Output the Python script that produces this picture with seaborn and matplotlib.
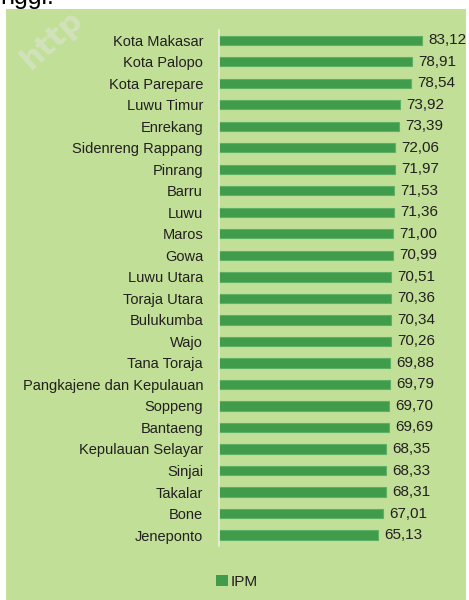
import matplotlib
matplotlib.use("Agg")
import matplotlib.pyplot as plt
from matplotlib.patches import Rectangle, Patch
import seaborn as sns
import pandas as pd

# IPM per kabupaten/kota
regions = ["Kota Makasar", "Kota Palopo", "Kota Parepare", "Luwu Timur", "Enrekang",
           "Sidenreng Rappang", "Pinrang", "Barru", "Luwu", "Maros", "Gowa",
           "Luwu Utara", "Toraja Utara", "Bulukumba", "Wajo", "Tana Toraja",
           "Pangkajene dan Kepulauan", "Soppeng", "Bantaeng", "Kepulauan Selayar",
           "Sinjai", "Takalar", "Bone", "Jeneponto"]
ipm = [83.12, 78.91, 78.54, 73.92, 73.39, 72.06, 71.97, 71.53, 71.36, 71.00, 70.99,
       70.51, 70.36, 70.34, 70.26, 69.88, 69.79, 69.70, 69.69, 68.35, 68.33, 68.31,
       67.01, 65.13]
series_name = "IPM"

df = pd.DataFrame({"region": regions, "ipm": ipm})

sns.set_style("white")
plt.rcParams["font.family"] = ["Liberation Sans Narrow", "Liberation Sans", "DejaVu Sans"]

bg = "#C1DF97"
bar_green = "#409C4B"
text_col = "#231F20"

W, H = 469, 600
fig = plt.figure(figsize=(W / 100, H / 100), dpi=100)
fig.patch.set_facecolor("white")

# light green panel behind the chart
fig.patches.append(Rectangle((6 / W, 0), (466 - 6) / W, (H - 9) / H,
                             transform=fig.transFigure, facecolor=bg,
                             edgecolor="none", zorder=-5))

# cropped caption text (cut at the top in the source) and faint watermark
fig.text(0.0, 1 - 4 / H, "nggi.", ha="left", va="baseline", fontsize=18,
         color="black", family=["Liberation Sans", "DejaVu Sans"], zorder=-4)
fig.text(52 / W, 1 - 40 / H, "http", ha="center", va="center", fontsize=22,
         fontweight="bold", rotation=42, color="#E6E6E6", alpha=0.45,
         family=["DejaVu Sans"], zorder=-3)

ax = fig.add_axes([219 / W, (H - 545.8) / H, (450 - 219) / W, (545.8 - 29.5) / H])
ax.set_facecolor("none")

sns.barplot(data=df, y="region", x="ipm", orient="h", color=bar_green,
            width=0.43, saturation=1, edgecolor="#5DB065", linewidth=0.8, ax=ax)

ax.set_xlim(0, (450 - 219) / 2.446)
ax.set_ylim(len(regions) - 0.5, -0.5)
ax.set_xlabel("")
ax.set_ylabel("")
ax.set_xticks([])
ax.tick_params(axis="y", length=0, pad=11.5, labelsize=10.5, labelcolor=text_col)

for s in ["top", "right", "bottom"]:
    ax.spines[s].set_visible(False)
ax.spines["left"].set_color("#E9EFE0")
ax.spines["left"].set_linewidth(1.2)

labels = [f"{v:.2f}".replace(".", ",") for v in ipm]
ax.bar_label(ax.containers[0], labels=labels, padding=4.5, fontsize=11,
             color=text_col)

fig.legend(handles=[Patch(facecolor=bar_green, edgecolor="none", label=series_name)],
           loc="center", bbox_to_anchor=(237 / W, 1 - 581.6 / H), frameon=False,
           fontsize=11, handlelength=0.8, handleheight=0.8, handletextpad=0.2,
           labelcolor=text_col)

fig.savefig("out.png", dpi=100, facecolor="white")
